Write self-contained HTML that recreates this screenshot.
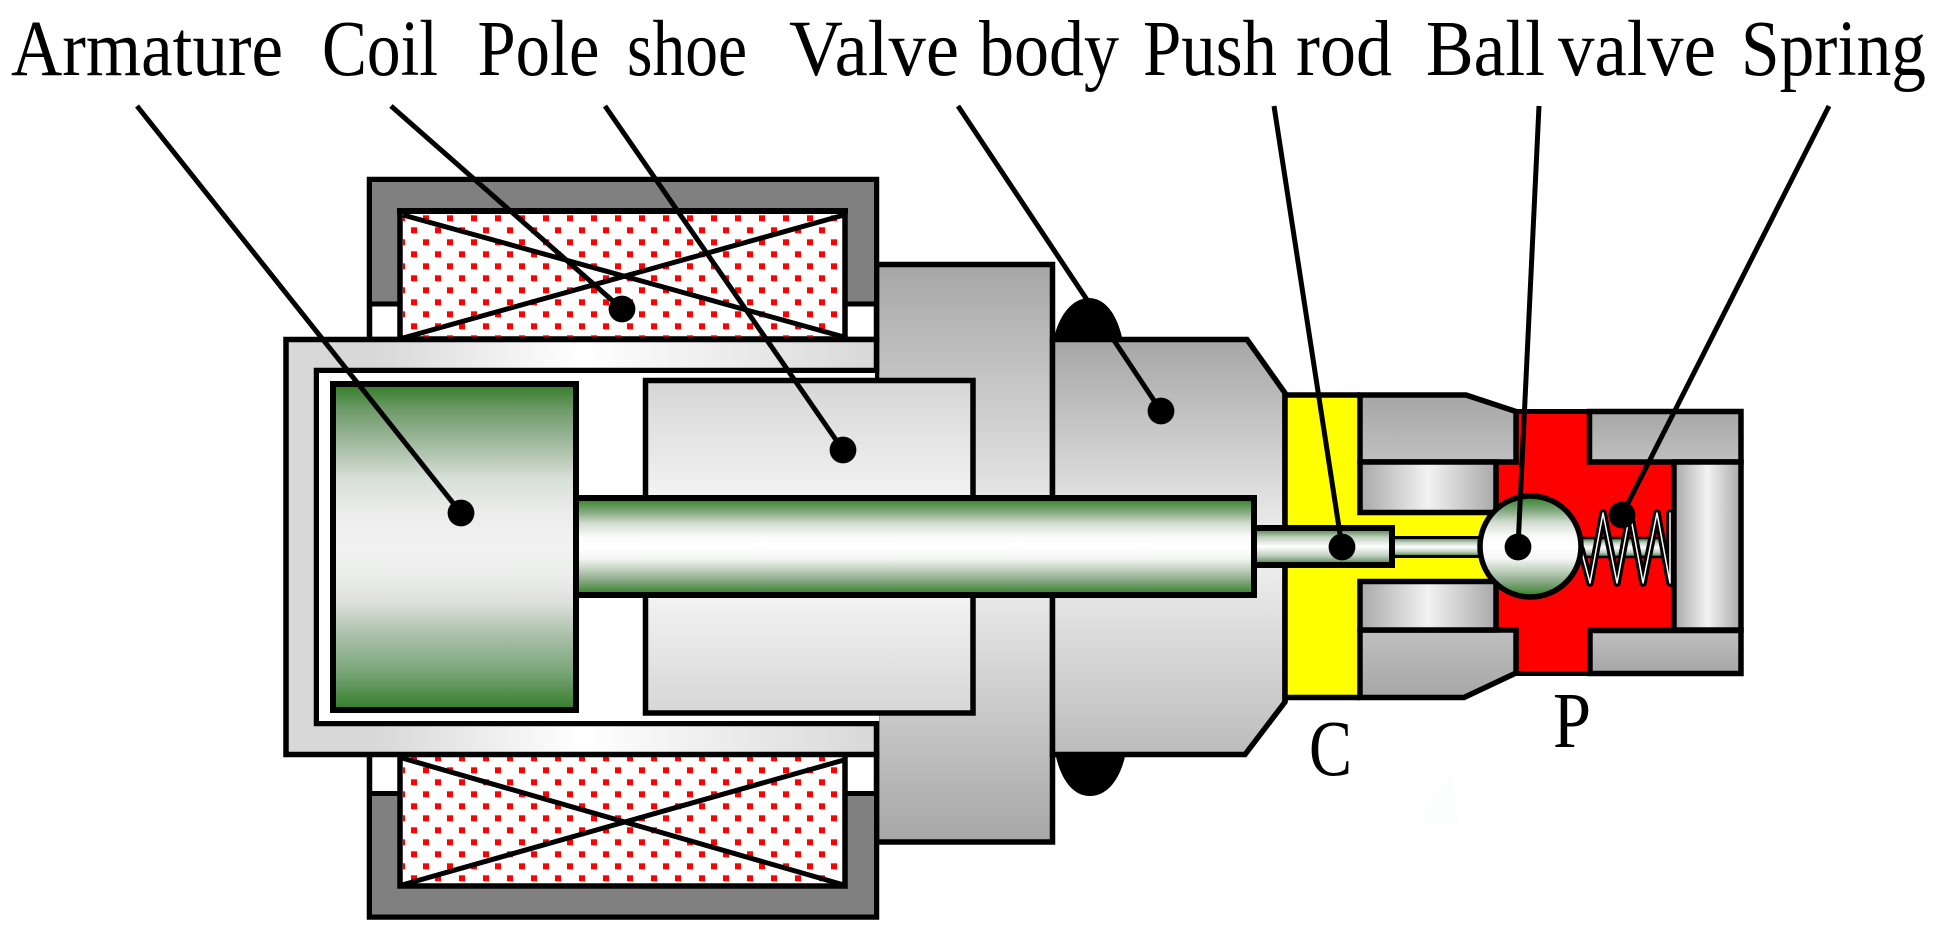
<!DOCTYPE html>
<html><head><meta charset="utf-8"><title>Solenoid valve</title>
<style>html,body{margin:0;padding:0;background:#fff}svg{display:block}text{font-family:"Liberation Serif",serif;font-size:79px;fill:#000}</style></head>
<body>
<svg xmlns="http://www.w3.org/2000/svg" width="1941" height="936" viewBox="0 0 1941 936">
<defs>
<pattern id="dots" x="0" y="0" width="24" height="24" patternUnits="userSpaceOnUse">
<rect x="15" y="-0.7" width="6" height="6" fill="#f00"/><rect x="15" y="23.3" width="6" height="6" fill="#f00"/><rect x="3" y="11.3" width="6" height="6" fill="#f00"/>
</pattern>
<linearGradient id="green" x1="0" y1="0" x2="0" y2="1"><stop offset="0.01" stop-color="#3a8030"/><stop offset=".08" stop-color="#6f9b6a"/><stop offset=".19" stop-color="#a5bda4"/><stop offset=".29" stop-color="#d8dfd8"/><stop offset=".395" stop-color="#ececec"/><stop offset=".5" stop-color="#f2f2f2"/><stop offset=".6" stop-color="#eaecea"/><stop offset=".67" stop-color="#dde0dc"/><stop offset=".775" stop-color="#a8bfa8"/><stop offset=".88" stop-color="#7ba77a"/><stop offset=".99" stop-color="#3a8030"/></linearGradient>
<linearGradient id="rod" x1="0" y1="0" x2="0" y2="1"><stop offset=".03" stop-color="#3f8835"/><stop offset=".16" stop-color="#8cae88"/><stop offset=".26" stop-color="#d0dccf"/><stop offset=".4" stop-color="#fbfbfb"/><stop offset=".5" stop-color="#fff"/><stop offset=".62" stop-color="#f5f7f5"/><stop offset=".74" stop-color="#c0d0be"/><stop offset=".85" stop-color="#88a884"/><stop offset=".97" stop-color="#3f8835"/></linearGradient>
<linearGradient id="rod2" x1="0" y1="0" x2="0" y2="1"><stop offset=".07" stop-color="#5f905c"/><stop offset=".25" stop-color="#c0d0c0"/><stop offset=".5" stop-color="#fff"/><stop offset=".75" stop-color="#c0d0c0"/><stop offset=".93" stop-color="#5f905c"/></linearGradient>
<linearGradient id="sleeve" x1="0" y1="0" x2="1" y2="0"><stop offset="0" stop-color="#d8d8d8"/><stop offset=".15" stop-color="#d8d8d8"/><stop offset=".5" stop-color="#fff"/><stop offset="1" stop-color="#d8d8d8"/></linearGradient>
<linearGradient id="flange" x1="0" y1="0" x2="0" y2="1"><stop offset="0" stop-color="#a6a6a6"/><stop offset=".5" stop-color="#f4f4f4"/><stop offset="1" stop-color="#a6a6a6"/></linearGradient>
<linearGradient id="pole" x1="0" y1="0" x2="0" y2="1"><stop offset="0" stop-color="#d6d6d6"/><stop offset=".5" stop-color="#fff"/><stop offset="1" stop-color="#d6d6d6"/></linearGradient>
<linearGradient id="body" x1="0" y1="0" x2="0" y2="1"><stop offset="0" stop-color="#a6a6a6"/><stop offset=".5" stop-color="#f2f2f2"/><stop offset="1" stop-color="#bcbcbc"/></linearGradient>
<linearGradient id="blockD" x1="0" y1="0" x2="0" y2="1"><stop offset="0" stop-color="#a6a6a6"/><stop offset="1" stop-color="#c0c0c0"/></linearGradient>
<linearGradient id="blockU" x1="0" y1="0" x2="0" y2="1"><stop offset="0" stop-color="#c0c0c0"/><stop offset="1" stop-color="#a6a6a6"/></linearGradient>
<linearGradient id="cyl" x1="0" y1="0" x2="1" y2="0"><stop offset="0" stop-color="#a8a8a8"/><stop offset=".5" stop-color="#f2f2f2"/><stop offset="1" stop-color="#a8a8a8"/></linearGradient>
<clipPath id="sp"><rect x="1570" y="490" width="102" height="110"/></clipPath>
</defs>

<!-- O-rings -->
<path d="M1053 342 C1058 316 1072 298 1089 298 C1106 298 1118 316 1123 342 Z" fill="#000"/>
<path d="M1055 752 C1060 778 1072 796 1090 796 C1108 796 1121 778 1126 752 Z" fill="#000"/>

<!-- Flange -->
<rect x="876.5" y="264.5" width="176" height="577.5" fill="url(#flange)" stroke="#000" stroke-width="5.5"/>

<!-- Upper yoke and coil -->
<rect x="369.5" y="179.5" width="507" height="160" fill="#fff" stroke="#000" stroke-width="5.5"/>
<rect x="372" y="182" width="502" height="120" fill="#808080"/>
<line x1="367" y1="304" x2="879" y2="304" stroke="#000" stroke-width="5"/>
<rect x="400" y="211" width="445" height="128" fill="#fff" stroke="#000" stroke-width="5.5"/>
<rect x="403" y="214" width="439" height="123" fill="url(#dots)"/>
<path d="M403 215 L844 337 M403 338 L844 215" stroke="#000" stroke-width="5" fill="none"/>
<rect x="397" y="208" width="451" height="6" fill="#000"/>

<!-- Lower yoke and coil -->
<rect x="369.5" y="754" width="507" height="163" fill="#fff" stroke="#000" stroke-width="5.5"/>
<rect x="372" y="796" width="502" height="118.500" fill="#808080"/>
<line x1="367" y1="793.500" x2="879" y2="793.500" stroke="#000" stroke-width="5"/>
<rect x="400" y="754" width="445" height="132" fill="#fff" stroke="#000" stroke-width="5.5"/>
<rect x="403" y="757" width="439" height="127" fill="url(#dots)"/>
<path d="M402 758 L844 885 M402 885 L844 760" stroke="#000" stroke-width="5" fill="none"/>

<!-- Sleeve -->
<path d="M876.500 339.500 H286 V754.500 H876.500 V723.500 H316.500 V370.500 H876.500 Z" fill="url(#sleeve)" stroke="#000" stroke-width="5.500"/>
<rect x="319" y="373" width="560" height="348" fill="#fff"/>
<line x1="877" y1="370" x2="877" y2="380" stroke="#000" stroke-width="4"/>

<!-- Pole shoe -->
<rect x="645.5" y="380.500" width="327.500" height="332.500" fill="url(#pole)" stroke="#000" stroke-width="5.500"/>

<!-- Valve body -->
<path d="M1052.500 339.500 H1247 L1285 393 V702 L1245 754.500 H1052.500 Z" fill="url(#body)" stroke="#000" stroke-width="5.500" stroke-linejoin="miter"/>

<!-- Armature -->
<rect x="333" y="384" width="243" height="326" fill="url(#green)" stroke="#000" stroke-width="6"/>

<!-- Yellow chamber -->
<path d="M1285 395 H1360 V512.500 H1496 V581.500 H1360 V697.500 H1285 Z" fill="#ff0"/>
<path d="M1285 395 H1360 M1285 697.500 H1360 M1285 393 V702" stroke="#000" stroke-width="5.500" fill="none"/>

<!-- Red chamber -->
<path d="M1516 411.500 H1590 V462 H1674 V630 H1590 V673.500 H1516 V630 H1496 V462 H1516 Z" fill="#f00" stroke="#000" stroke-width="5"/>

<!-- Blocks -->
<path d="M1360 395 H1466 L1516 411.500 V462 H1360 Z" fill="url(#blockD)" stroke="#000" stroke-width="5.500"/>
<path d="M1360 630 H1516 V673 L1464 697.500 H1360 Z" fill="url(#blockU)" stroke="#000" stroke-width="5.500"/>
<rect x="1360" y="462" width="136" height="50.500" fill="url(#cyl)" stroke="#000" stroke-width="5.500"/>
<rect x="1360" y="581.500" width="136" height="48.500" fill="url(#cyl)" stroke="#000" stroke-width="5.500"/>
<path d="M1589.500 411.500 H1741 V462 H1589.500 Z" fill="url(#blockD)" stroke="#000" stroke-width="5.500"/>
<path d="M1590 630.500 H1741 V673.500 H1590 Z" fill="url(#blockU)" stroke="#000" stroke-width="5.500"/>
<rect x="1674" y="462" width="67" height="168" fill="url(#cyl)" stroke="#000" stroke-width="5.500"/>

<!-- Rod + pins -->
<rect x="1391" y="537.500" width="100" height="19" fill="url(#rod2)" stroke="#000" stroke-width="3"/>
<rect x="1253" y="528" width="139" height="37" fill="url(#rod2)" stroke="#000" stroke-width="6"/>
<rect x="576" y="498" width="678" height="97" fill="url(#rod)" stroke="#000" stroke-width="6"/>

<!-- Spring rod -->
<rect x="1575" y="538" width="87" height="19" fill="url(#rod2)" stroke="#000" stroke-width="2.500"/>

<!-- Spring -->
<g clip-path="url(#sp)" fill="none" stroke-linejoin="round" stroke-linecap="round">
<path d="M1581 549 L1590 583 L1603 513 L1617 583 L1630 513 L1643 583 L1657 513 L1670 583 V513" stroke="#000" stroke-width="7.500"/>
<path d="M1581 549 L1590 583 L1603 513 L1617 583 L1630 513 L1643 583 L1657 513 L1670 583 V513" stroke="#fff" stroke-width="1.500"/>
</g>

<!-- Ball -->
<circle cx="1530.500" cy="546.500" r="50.500" fill="url(#rod)" stroke="#000" stroke-width="5.500"/>

<!-- Faint smudge -->
<path d="M1452 768 L1459 825 H1418 Z" fill="#fcfefe"/>

<!-- Leader lines -->
<g stroke="#000" stroke-width="5" fill="none">
<line x1="137" y1="106" x2="461" y2="513"/>
<line x1="391" y1="106" x2="622" y2="309"/>
<line x1="605" y1="106" x2="843" y2="450"/>
<line x1="958" y1="106" x2="1161" y2="411"/>
<line x1="1274" y1="106" x2="1342" y2="547"/>
<line x1="1539" y1="106" x2="1518" y2="547"/>
<line x1="1829" y1="106" x2="1622" y2="515"/>
</g>
<g fill="#000">
<circle cx="461" cy="513" r="13.400"/><circle cx="622" cy="309" r="13.400"/><circle cx="843" cy="450" r="13.400"/><circle cx="1161" cy="411" r="13.400"/><circle cx="1342" cy="547" r="13.400"/><circle cx="1518" cy="547" r="13.400"/><circle cx="1622" cy="515" r="13.400"/>
</g>

<!-- Labels -->
<text x="11" y="75" textLength="272" lengthAdjust="spacingAndGlyphs">Armature</text>
<text x="322" y="75" textLength="116" lengthAdjust="spacingAndGlyphs">Coil</text>
<text x="477.500" y="75" textLength="122" lengthAdjust="spacingAndGlyphs">Pole</text>
<text x="627" y="75" textLength="120" lengthAdjust="spacingAndGlyphs">shoe</text>
<text x="789" y="75" textLength="170" lengthAdjust="spacingAndGlyphs">Valve</text>
<text x="979" y="75" textLength="140" lengthAdjust="spacingAndGlyphs">body</text>
<text x="1143" y="75" textLength="134" lengthAdjust="spacingAndGlyphs">Push</text>
<text x="1296" y="75" textLength="96" lengthAdjust="spacingAndGlyphs">rod</text>
<text x="1426" y="75" textLength="119" lengthAdjust="spacingAndGlyphs">Ball</text>
<text x="1558" y="75" textLength="158" lengthAdjust="spacingAndGlyphs">valve</text>
<text x="1741" y="75" textLength="185" lengthAdjust="spacingAndGlyphs">Spring</text>
<text x="1309" y="775" textLength="43" lengthAdjust="spacingAndGlyphs">C</text>
<text x="1553" y="747" textLength="38" lengthAdjust="spacingAndGlyphs">P</text>
</svg>
</body></html>
